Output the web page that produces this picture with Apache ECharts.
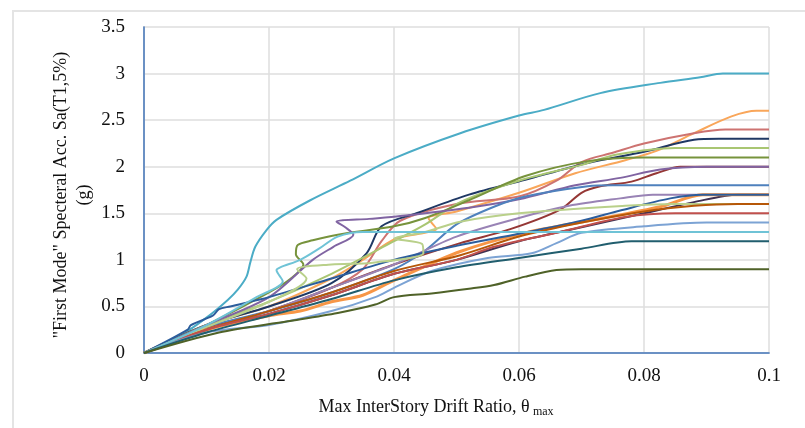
<!DOCTYPE html>
<html>
<head>
<meta charset="utf-8">
<script src="https://cdn.jsdelivr.net/npm/echarts@6/dist/echarts.min.js"></script>
<style>
  html, body { margin: 0; padding: 0; background: #fff; overflow: hidden; }
  .frame {
    position: absolute; left: 12px; top: 10px; right: -10px; bottom: -10px;
    border: 2px solid #e4e4e4;
  }
  #chart { position: absolute; left: 0; top: 0; width: 805px; height: 428px; }
</style>
</head>
<body>
<div class="frame"></div>
<div id="chart"></div>
<script>
// IDA curves: [drift ratio, Sa(T1,5%) in g], one array per ground motion
const gm01 = [[0,0],[0.005,0.15],[0.01,0.38],[0.0134,0.57],[0.015,0.68],[0.0164,0.82],[0.017,0.97],[0.0178,1.14],[0.0196,1.32],[0.0212,1.43],[0.0266,1.64],[0.033,1.85],[0.04,2.09],[0.0506,2.36],[0.06,2.55],[0.064,2.61],[0.073,2.79],[0.0826,2.9],[0.089,2.96],[0.0926,3.0],[0.1,3.0]]
const gm02 = [[0,0],[0.01,0.3],[0.02,0.5],[0.03,0.8],[0.035,1.0],[0.04,1.22],[0.044,1.28],[0.0468,1.33],[0.046,1.4],[0.0455,1.45],[0.05,1.52],[0.06,1.72],[0.069,1.93],[0.077,2.07],[0.082,2.17],[0.088,2.36],[0.094,2.54],[0.098,2.6],[0.1,2.6]]
const gm03 = [[0,0],[0.01,0.25],[0.02,0.45],[0.03,0.7],[0.035,0.9],[0.038,1.2],[0.041,1.42],[0.05,1.6],[0.06,1.68],[0.066,1.85],[0.07,2.05],[0.075,2.15],[0.08,2.25],[0.088,2.36],[0.093,2.4],[0.1,2.4]]
const gm04 = [[0,0],[0.01,0.3],[0.02,0.5],[0.03,0.75],[0.0356,1.07],[0.038,1.36],[0.0436,1.5],[0.052,1.7],[0.061,1.86],[0.071,2.04],[0.08,2.16],[0.088,2.29],[0.092,2.3],[0.1,2.3]]
const gm05 = [[0,0],[0.01,0.3],[0.02,0.55],[0.03,0.85],[0.04,1.2],[0.045,1.38],[0.0506,1.62],[0.06,1.85],[0.07,2.02],[0.0757,2.13],[0.085,2.2],[0.1,2.2]]
const gm06 = [[0,0],[0.01,0.3],[0.02,0.65],[0.0235,0.8],[0.0255,0.95],[0.0243,1.06],[0.0246,1.16],[0.027,1.21],[0.031,1.27],[0.04,1.36],[0.045,1.45],[0.052,1.64],[0.061,1.9],[0.071,2.06],[0.08,2.1],[0.1,2.1]]
const gm07 = [[0,0],[0.01,0.27],[0.02,0.45],[0.03,0.7],[0.04,0.95],[0.0506,1.18],[0.0586,1.33],[0.0666,1.54],[0.07,1.72],[0.073,1.79],[0.078,1.84],[0.082,1.93],[0.0858,2.0],[0.1,2.0]]
const gm08 = [[0,0],[0.01,0.3],[0.02,0.6],[0.027,1.0],[0.0303,1.14],[0.0335,1.27],[0.0322,1.35],[0.0308,1.41],[0.036,1.44],[0.041,1.47],[0.052,1.56],[0.06,1.65],[0.069,1.8],[0.0762,1.88],[0.0826,1.97],[0.09,2.0],[0.1,2.0]]
const gm09 = [[0,0],[0.01,0.28],[0.02,0.45],[0.03,0.65],[0.04,0.9],[0.045,1.1],[0.05,1.38],[0.056,1.57],[0.061,1.68],[0.071,1.79],[0.075,1.8],[0.1,1.8]]
const gm10 = [[0,0],[0.01,0.25],[0.02,0.45],[0.03,0.7],[0.04,0.95],[0.05,1.25],[0.06,1.45],[0.068,1.58],[0.0762,1.66],[0.0814,1.7],[0.1,1.7]]
const gm11 = [[0,0],[0.01,0.25],[0.02,0.42],[0.03,0.62],[0.04,0.85],[0.05,1.0],[0.06,1.2],[0.07,1.35],[0.08,1.5],[0.088,1.62],[0.095,1.7],[0.1,1.7]]
const gm12 = [[0,0],[0.01,0.25],[0.02,0.4],[0.025,0.45],[0.03,0.55],[0.035,0.62],[0.04,0.78],[0.0506,1.09],[0.061,1.29],[0.072,1.43],[0.0826,1.57],[0.0894,1.7],[0.1,1.7]]
const gm13 = [[0,0],[0.007,0.25],[0.0075,0.3],[0.011,0.4],[0.012,0.47],[0.0138,0.5],[0.02,0.6],[0.03,0.8],[0.04,1.0],[0.05,1.15],[0.06,1.28],[0.07,1.42],[0.0762,1.53],[0.0842,1.66],[0.0894,1.7],[0.1,1.7]]
const gm14 = [[0,0],[0.01,0.28],[0.02,0.55],[0.026,0.8],[0.0245,0.9],[0.03,0.95],[0.0366,0.97],[0.0447,1.07],[0.0445,1.17],[0.04,1.23],[0.045,1.3],[0.0506,1.41],[0.06,1.5],[0.077,1.58],[0.085,1.6],[0.1,1.6]]
const gm15 = [[0,0],[0.01,0.25],[0.02,0.45],[0.03,0.65],[0.04,0.88],[0.0506,1.05],[0.06,1.25],[0.07,1.4],[0.08,1.52],[0.088,1.58],[0.095,1.6],[0.1,1.6]]
const gm16 = [[0,0],[0.01,0.25],[0.02,0.42],[0.03,0.62],[0.04,0.85],[0.05,1.0],[0.056,1.14],[0.0666,1.3],[0.077,1.46],[0.085,1.5],[0.1,1.5]]
const gm17 = [[0,0],[0.01,0.22],[0.02,0.3],[0.03,0.45],[0.037,0.6],[0.04,0.7],[0.046,0.88],[0.055,1.02],[0.062,1.07],[0.066,1.18],[0.07,1.29],[0.08,1.36],[0.09,1.4],[0.1,1.4]]
const gm18 = [[0,0],[0.01,0.3],[0.018,0.6],[0.0222,0.77],[0.0212,0.89],[0.0218,0.92],[0.025,1.0],[0.028,1.12],[0.031,1.25],[0.035,1.3],[0.1,1.3]]
const gm19 = [[0,0],[0.01,0.22],[0.02,0.4],[0.03,0.58],[0.04,0.78],[0.05,0.92],[0.06,1.02],[0.07,1.12],[0.078,1.2],[0.1,1.2]]
const gm20 = [[0,0],[0.012,0.22],[0.023,0.34],[0.031,0.43],[0.037,0.52],[0.04,0.6],[0.046,0.64],[0.052,0.69],[0.056,0.73],[0.061,0.82],[0.066,0.89],[0.07,0.9],[0.1,0.9]]

const curves = [gm01, gm02, gm03, gm04, gm05, gm06, gm07, gm08, gm09, gm10,
  gm11, gm12, gm13, gm14, gm15, gm16, gm17, gm18, gm19, gm20]
const xTicks = [0, 0.02, 0.04, 0.06, 0.08, 0.1]
const yTicks = [0, 0.5, 1, 1.5, 2, 2.5, 3, 3.5]

// Excel-ish palette, one per curve
const colors = ['#4bacc6', '#f9a65a', '#cd7371', '#1f3864', '#a9c672', '#77933c',
  '#953735', '#8064a2', '#4f81bd', '#9983b5', '#403152', '#f79646', '#2c5d9c',
  '#b9d08a', '#b65708', '#c0504d', '#7ca3d4', '#6fc3d6', '#215e6e', '#4f6228']

const chart = echarts.init(document.getElementById('chart'), null, { renderer: 'canvas' })
const serif = 'Liberation Serif'

chart.setOption({
  animation: false,
  backgroundColor: 'transparent',
  grid: { left: 144, right: 36, top: 27, bottom: 75 },
  xAxis: [{
    type: 'value', min: xTicks[0], max: xTicks[xTicks.length - 1], interval: 0.02,
    axisLine: { lineStyle: { color: '#d0d0d0', width: 2 } },
    axisTick: { show: false },
    splitLine: { lineStyle: { color: '#dedede', width: 1.5 } },
    axisLabel: { margin: 14, color: '#111', fontFamily: serif, fontSize: 19,
      formatter: (v) => String(+v.toFixed(2)) }
  }, {
    type: 'value', position: 'top', min: 0, max: 0.1,
    axisLine: { show: true, lineStyle: { color: '#4a7cc0', width: 1.5 } },
    axisTick: { show: false }, axisLabel: { show: false }, splitLine: { show: false }
  }],
  yAxis: [{
    type: 'value', min: yTicks[0], max: yTicks[yTicks.length - 1], interval: 0.5,
    axisLine: { show: true, lineStyle: { color: '#d0d0d0', width: 2 } },
    axisTick: { show: false },
    splitLine: { lineStyle: { color: '#dedede', width: 1.5 } },
    axisLabel: { margin: 19, color: '#111', fontFamily: serif, fontSize: 19 }
  }, {
    type: 'value', position: 'right', min: 0, max: 3.5,
    axisLine: { show: true, lineStyle: { color: '#4a7cc0', width: 1.5 } },
    axisTick: { show: false }, axisLabel: { show: false }, splitLine: { show: false }
  }],
  series: curves.map((d, i) => ({
    name: 'GM' + (i + 1),
    type: 'line',
    data: d,
    smooth: 0.3,
    showSymbol: false,
    lineStyle: { color: colors[i], width: i === 11 ? 3 : 2 },
    z: 2
  })),
  graphic: [
    {
      type: 'text', x: 73, y: 195, rotation: Math.PI / 2,
      style: {
        text: '"First Mode" Specteral Acc. Sa(T1,5%)\n(g)',
        font: '18px "Liberation Serif"', fill: '#111',
        align: 'center', verticalAlign: 'middle', lineHeight: 23
      }
    },
    {
      type: 'text', x: 436, y: 407,
      style: {
        text: '{a|Max InterStory Drift Ratio, θ} {b|max}',
        align: 'center', verticalAlign: 'middle',
        rich: {
          a: { font: '18px "Liberation Serif"', fill: '#111' },
          b: { font: '12px "Liberation Serif"', fill: '#111', padding: [10, 0, 0, 0] }
        }
      }
    }
  ]
})
</script>
</body>
</html>
